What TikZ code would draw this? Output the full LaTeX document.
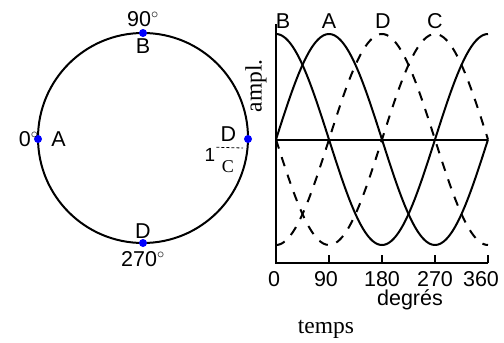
\documentclass[tikz,border=0pt]{standalone}
\usepackage{fontspec}
\setmainfont{Liberation Sans}
\newfontfamily\serif{Liberation Serif}
\usetikzlibrary{positioning}

\begin{document}
\begin{tikzpicture}[x=1pt, y=-1pt,
  dot/.style={circle, fill=blue, inner sep=0pt, minimum size=8pt},
  lbl/.style={font=\fontsize{21.5}{21.5}\selectfont, inner sep=1pt},
  slbl/.style={font=\serif\fontsize{23.5}{23.5}\selectfont, inner sep=1pt},
  wave/.style={line width=2pt},
  dwave/.style={line width=2pt, dash pattern=on 9.5pt off 9pt},
]
  \useasboundingbox (0,0) rectangle (504,343);

  % phase circle
  \draw[line width=2pt] (143,138) circle[radius=105pt];
  \node[dot] (pA) at (38,139) {};
  \node[dot] (pB) at (143,33) {};
  \node[dot] (pR) at (248,139) {};
  \node[dot] (pD) at (143,243) {};

  \node[lbl, above=1pt of pB] (degB) {90$^\circ$};
  \node[lbl, below=0pt of pB] (labB) {B};
  \node[lbl, left=-6pt of pA] (degA) {0$^\circ$};
  \node[lbl, right=8pt of pA] (labA) {A};
  \node[lbl, above=-1pt of pD] (labD) {D};
  \node[lbl, below=3pt of pD] (degD) {270$^\circ$};
  \node[lbl] (labRD) at (228.5,134.5) {D};
  \node[lbl, font=\fontsize{19}{19}\selectfont] (one) at (210,155) {1};
  \node[slbl, font=\serif\fontsize{18}{18}\selectfont] (labRC) at (228,167) {C};
  \coordinate (dEnd) at (243,148);
  \draw[line width=0.8pt, dash pattern=on 3pt off 2pt] (one.north east) -- (dEnd);

  % waves
  \draw[line width=2pt] (276,24) -- (276,263) -- (488,263);
  \draw[line width=2pt] (276,140) -- (488,140);
  \foreach \d in {90,180,270,360}
    \draw[line width=2pt] ({276+\d/360*212},255) -- ({276+\d/360*212},263);
  \foreach \d/\xx in {0/274,90/326,180/382,270/435,360/481}
    \node[lbl] (t\d) at (\xx,279) {\d};

  \draw[wave] plot[domain=0:360, samples=91] ({276+\x/360*212}, {139.5-105.5*cos(\x)});
  \draw[wave] plot[domain=0:360, samples=91] ({276+\x/360*212}, {139.5-105.5*sin(\x)});
  \draw[dwave] plot[domain=0:360, samples=91] ({276+\x/360*212}, {139.5+105.5*cos(\x)});
  \draw[dwave] plot[domain=0:360, samples=91] ({276+\x/360*212}, {139.5+105.5*sin(\x)});

  \node[lbl] (cB) at (283,21.5) {B};
  \node[lbl] (cA) at (329,21.5) {A};
  \node[lbl] (cD) at (383,21.5) {D};
  \node[lbl] (cC) at (435,21.5) {C};

  \node[lbl, anchor=north, inner sep=0pt] (deg) at (410,289) {degrés};
  \node[slbl] (temps) at (326,329) {temps};
  \node[slbl, rotate=90] (ampl) at (256,86) {ampl.};
\end{tikzpicture}
\end{document}
